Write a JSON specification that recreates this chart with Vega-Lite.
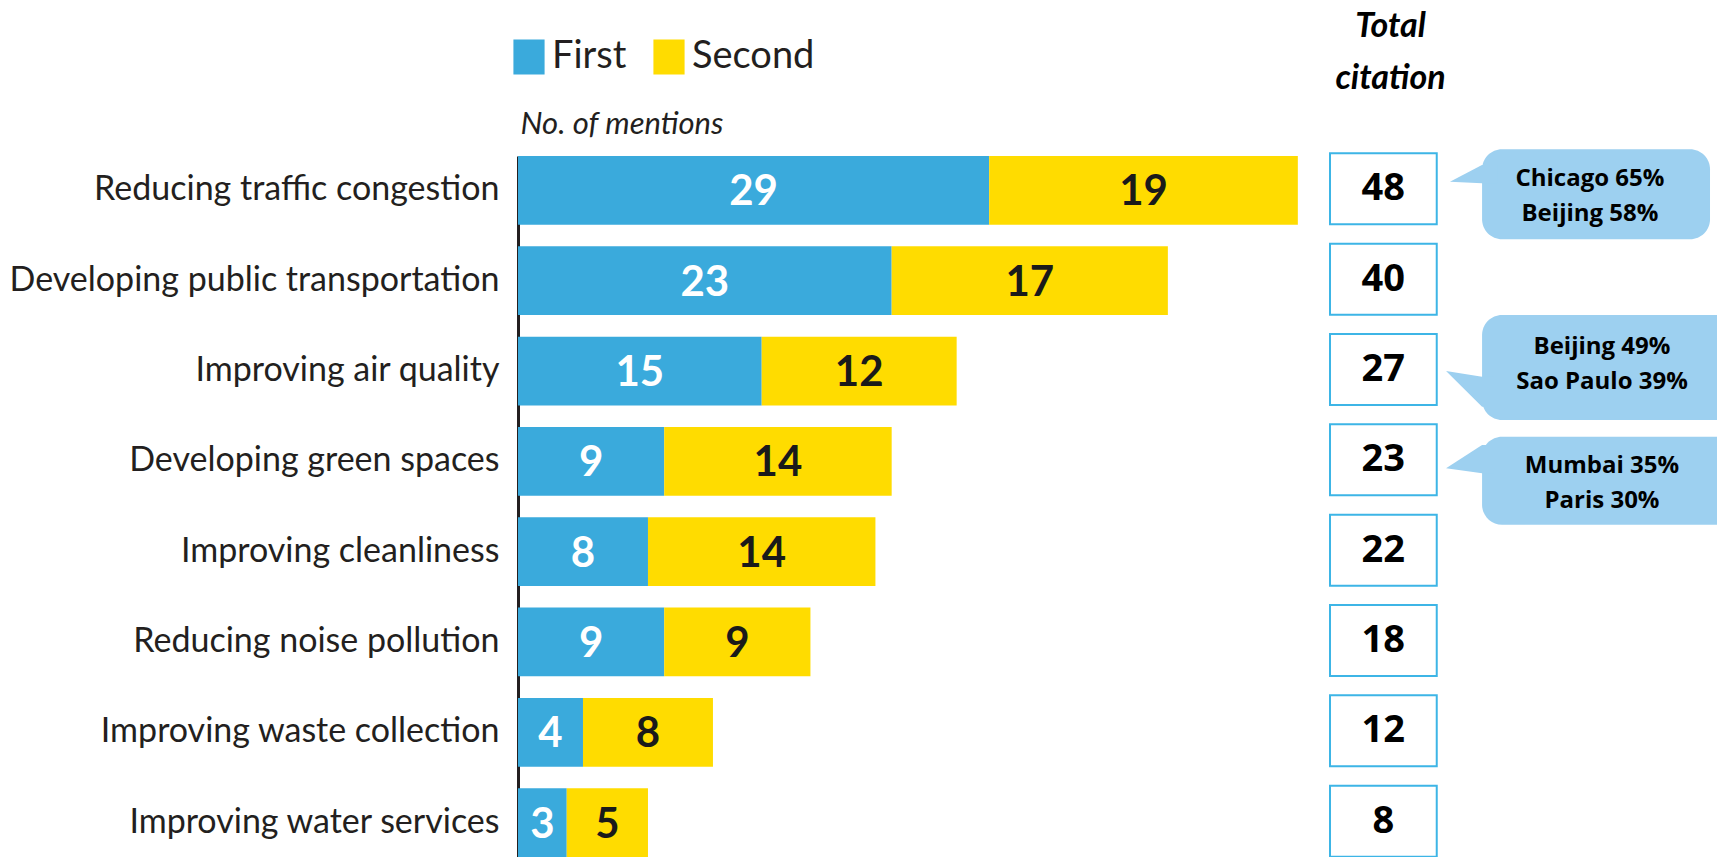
{
  "$schema": "https://vega.github.io/schema/vega-lite/v6.json",
  "autosize": {"type": "none"},
  "padding": {"left": 518, "top": 156, "right": 0, "bottom": 0},
  "width": 1199,
  "height": 701,
  "background": "#ffffff",
  "config": {"view": {"stroke": null}},
  "datasets": {
    "mentions": [
      {"cat": "Reducing traffic congestion", "series": "First", "value": 29},
      {"cat": "Reducing traffic congestion", "series": "Second", "value": 19},
      {"cat": "Developing public transportation", "series": "First", "value": 23},
      {"cat": "Developing public transportation", "series": "Second", "value": 17},
      {"cat": "Improving air quality", "series": "First", "value": 15},
      {"cat": "Improving air quality", "series": "Second", "value": 12},
      {"cat": "Developing green spaces", "series": "First", "value": 9},
      {"cat": "Developing green spaces", "series": "Second", "value": 14},
      {"cat": "Improving cleanliness", "series": "First", "value": 8},
      {"cat": "Improving cleanliness", "series": "Second", "value": 14},
      {"cat": "Reducing noise pollution", "series": "First", "value": 9},
      {"cat": "Reducing noise pollution", "series": "Second", "value": 9},
      {"cat": "Improving waste collection", "series": "First", "value": 4},
      {"cat": "Improving waste collection", "series": "Second", "value": 8},
      {"cat": "Improving water services", "series": "First", "value": 3},
      {"cat": "Improving water services", "series": "Second", "value": 5}
    ],
    "totals": [
      {"cat": "Reducing traffic congestion", "total": 48},
      {"cat": "Developing public transportation", "total": 40},
      {"cat": "Improving air quality", "total": 27},
      {"cat": "Developing green spaces", "total": 23},
      {"cat": "Improving cleanliness", "total": 22},
      {"cat": "Reducing noise pollution", "total": 18},
      {"cat": "Improving waste collection", "total": 12},
      {"cat": "Improving water services", "total": 8}
    ],
    "callouts": [
      {"cat": "Reducing traffic congestion", "label": "Chicago 65%\nBeijing 58%"},
      {"cat": "Improving air quality", "label": "Beijing 49%\nSao Paulo 39%"},
      {"cat": "Developing green spaces", "label": "Mumbai 35%\nParis 30%"}
    ]
  },
  "encoding": {
    "y": {
      "field": "cat",
      "type": "nominal",
      "sort": ["Reducing traffic congestion", "Developing public transportation", "Improving air quality", "Developing green spaces", "Improving cleanliness", "Reducing noise pollution", "Improving waste collection", "Improving water services"],
      "scale": {"paddingInner": 0.239, "paddingOuter": 0},
      "axis": {
        "title": "No. of mentions",
        "titleAngle": 0,
        "titleAlign": "left",
        "titleBaseline": "alphabetic",
        "titleX": 2,
        "titleY": -23,
        "titleFont": "Lato",
        "titleFontSize": 31,
        "titleFontWeight": "normal",
        "titleFontStyle": "italic",
        "titleColor": "#231f20",
        "labelFont": "Lato",
        "labelFontSize": 34,
        "labelColor": "#231f20",
        "labelPadding": 19,
        "labelLimit": 700,
        "labelOffset": 0,
        "ticks": false,
        "grid": false,
        "domain": true,
        "domainColor": "#231f20",
        "domainWidth": 3
      }
    }
  },
  "layer": [
    {
      "data": {"name": "mentions"},
      "mark": {"type": "bar"},
      "encoding": {
        "x": {
          "field": "value",
          "type": "quantitative",
          "stack": "zero",
          "scale": {"domain": [0, 73.8], "nice": false, "zero": true},
          "axis": {
            "orient": "top",
            "domain": false,
            "ticks": false,
            "labels": false,
            "grid": false,
            "title": ["Total", "citation"],
            "titleX": 872,
            "titleY": -147,
            "titleAlign": "center",
            "titleBaseline": "top",
            "titleAngle": 0,
            "titleFont": "Lato",
            "titleFontSize": 34,
            "titleFontWeight": "bold",
            "titleFontStyle": "italic",
            "titleLineHeight": 52,
            "titleColor": "#000000"
          }
        },
        "color": {
          "field": "series",
          "type": "nominal",
          "scale": {"domain": ["First", "Second"], "range": ["#3aaadc", "#ffdc00"]},
          "legend": {
            "orient": "none",
            "legendX": -8,
            "legendY": -118,
            "direction": "horizontal",
            "title": null,
            "symbolType": "M-0.94,-1.05H0.94V1.05H-0.94Z",
            "symbolSize": 1100,
            "symbolStrokeWidth": 0,
            "symbolOpacity": 1,
            "labelFont": "Lato",
            "labelFontSize": 38,
            "labelColor": "#231f20",
            "labelOffset": 4,
            "columnPadding": 23
          }
        }
      }
    },
    {
      "data": {"name": "mentions"},
      "transform": [
        {"stack": "value", "groupby": ["cat"], "sort": [{"field": "series", "order": "ascending"}], "as": ["x0", "x1"]},
        {"fold": ["x0", "x1"], "as": ["edge", "pos"]},
        {"aggregate": [{"op": "mean", "field": "pos", "as": "mid"}], "groupby": ["cat", "series", "value"]}
      ],
      "mark": {"type": "text", "font": "Lato", "fontSize": 42, "fontWeight": "bold", "align": "center", "baseline": "middle", "dy": 2},
      "encoding": {
        "x": {"field": "mid", "type": "quantitative"},
        "text": {"field": "value", "type": "quantitative"},
        "color": {"condition": {"test": "datum.series === 'First'", "value": "#ffffff"}, "value": "#1a1a1a"}
      }
    },
    {
      "data": {"name": "totals"},
      "mark": {"type": "bar", "size": 71, "yOffset": -1.5, "fill": "#ffffff", "stroke": "#3db5e6", "strokeWidth": 2},
      "encoding": {
        "x": {"datum": 49.98, "type": "quantitative"},
        "x2": {"datum": 56.55}
      }
    },
    {
      "data": {"name": "totals"},
      "mark": {"type": "text", "font": "Open Sans", "fontSize": 38, "fontWeight": "bold", "align": "center", "baseline": "middle", "dy": -1, "color": "#000000"},
      "encoding": {
        "x": {"datum": 53.26, "type": "quantitative"},
        "text": {"field": "total", "type": "quantitative"}
      }
    },
    {
      "data": {"name": "callouts"},
      "transform": [{"filter": "datum.cat === 'Reducing traffic congestion'"}],
      "layer": [
        {
          "mark": {"type": "bar", "size": 90, "yOffset": 3.9, "cornerRadius": 20, "fill": "#9dd0f0"},
          "encoding": {"x": {"datum": 59.34, "type": "quantitative"}, "x2": {"datum": 73.37}}
        },
        {
          "mark": {"type": "point", "shape": "M -1 0.28 L 0.333 -0.42 L 1 -0.42 L 1 0.35 L 0.333 0.35 Z", "size": 2304, "filled": true, "fill": "#9dd0f0", "opacity": 1, "strokeWidth": 0, "yOffset": -15.4},
          "encoding": {"x": {"datum": 58.84, "type": "quantitative"}}
        },
        {
          "mark": {"type": "text", "font": "Open Sans", "fontSize": 24, "fontWeight": "bold", "lineBreak": "\n", "lineHeight": 35, "align": "center", "baseline": "middle", "yOffset": -11, "color": "#000000"},
          "encoding": {"x": {"datum": 65.98, "type": "quantitative"}, "text": {"field": "label"}}
        }
      ]
    },
    {
      "data": {"name": "callouts"},
      "transform": [{"filter": "datum.cat === 'Improving air quality'"}],
      "layer": [
        {
          "mark": {"type": "bar", "size": 105, "yOffset": -3.5, "cornerRadius": 20, "fill": "#9dd0f0"},
          "encoding": {"x": {"datum": 59.34, "type": "quantitative"}, "x2": {"datum": 76}}
        },
        {
          "mark": {"type": "point", "shape": "M -1 -0.75 L 0.5 -0.51 L 1 -0.51 L 1 0.74 L 0.5 0.74 Z", "size": 2304, "filled": true, "fill": "#9dd0f0", "opacity": 1, "strokeWidth": 0, "yOffset": 18},
          "encoding": {"x": {"datum": 58.6, "type": "quantitative"}}
        },
        {
          "mark": {"type": "text", "font": "Open Sans", "fontSize": 24, "fontWeight": "bold", "lineBreak": "\n", "lineHeight": 35, "align": "center", "baseline": "middle", "yOffset": -24.5, "color": "#000000"},
          "encoding": {"x": {"datum": 66.72, "type": "quantitative"}, "text": {"field": "label"}}
        }
      ]
    },
    {
      "data": {"name": "callouts"},
      "transform": [{"filter": "datum.cat === 'Developing green spaces'"}],
      "layer": [
        {
          "mark": {"type": "bar", "size": 88, "yOffset": 19.4, "cornerRadius": 20, "fill": "#9dd0f0"},
          "encoding": {"x": {"datum": 59.34, "type": "quantitative"}, "x2": {"datum": 76}}
        },
        {
          "mark": {"type": "point", "shape": "M -1 0.39 L 0.5 -0.58 L 1 -0.58 L 1 0.6 L 0.5 0.6 Z", "size": 2304, "filled": true, "fill": "#9dd0f0", "opacity": 1, "strokeWidth": 0, "yOffset": -2.4},
          "encoding": {"x": {"datum": 58.6, "type": "quantitative"}}
        },
        {
          "mark": {"type": "text", "font": "Open Sans", "fontSize": 24, "fontWeight": "bold", "lineBreak": "\n", "lineHeight": 35, "align": "center", "baseline": "middle", "yOffset": 5, "color": "#000000"},
          "encoding": {"x": {"datum": 66.72, "type": "quantitative"}, "text": {"field": "label"}}
        }
      ]
    }
  ]
}
